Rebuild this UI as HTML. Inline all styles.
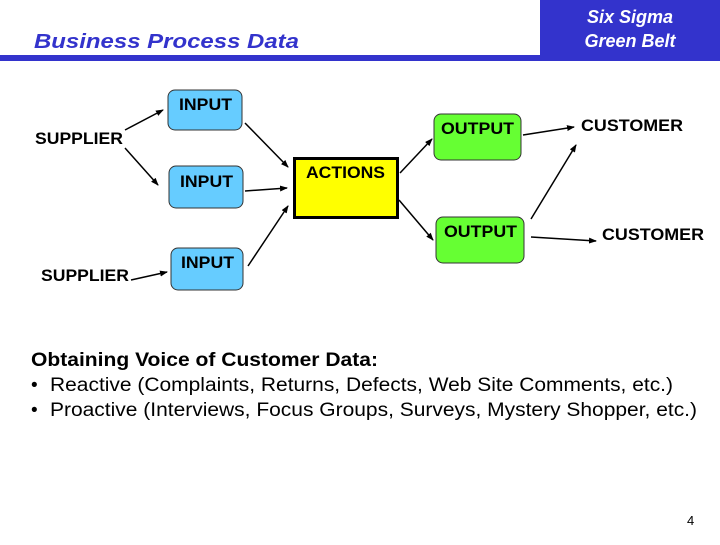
<!DOCTYPE html>
<html><head><style>
body{margin:0;width:720px;height:540px;overflow:hidden;background:#fff}
</style></head><body>
<svg width="720" height="540" xmlns="http://www.w3.org/2000/svg" font-family="Liberation Sans, sans-serif">
<defs><marker id="a" markerWidth="8" markerHeight="6" refX="7" refY="3" orient="auto" markerUnits="userSpaceOnUse"><path d="M0,0 L8,3 L0,6 z" fill="#000"/></marker></defs>
<rect x="540" y="0" width="180" height="56" fill="#3333cc"/>
<rect x="0" y="55" width="720" height="6" fill="#3333cc"/>
<text x="630" y="23" text-anchor="middle" fill="#fff" font-size="18" font-weight="bold" font-style="italic">Six Sigma</text>
<text x="630" y="47" text-anchor="middle" fill="#fff" font-size="18" font-weight="bold" font-style="italic">Green Belt</text>
<text x="34" y="48" fill="#3333cc" font-size="20" font-weight="bold" font-style="italic" textLength="265" lengthAdjust="spacingAndGlyphs">Business Process Data</text>
<g stroke="#333" stroke-width="1">
<rect x="168" y="90" width="74" height="40" rx="7" fill="#66ccff"/>
<rect x="169" y="166" width="74" height="42" rx="7" fill="#66ccff"/>
<rect x="171" y="248" width="72" height="42" rx="7" fill="#66ccff"/>
<rect x="434" y="114" width="87" height="46" rx="7" fill="#66ff33"/>
<rect x="436" y="217" width="88" height="46" rx="7" fill="#66ff33"/>
</g>
<rect x="294.5" y="158.5" width="103" height="59" fill="#ffff00" stroke="#000" stroke-width="3"/>
<g font-size="17" font-weight="bold" fill="#000" lengthAdjust="spacingAndGlyphs">
<text x="179" y="110" textLength="53" lengthAdjust="spacingAndGlyphs">INPUT</text>
<text x="180" y="187" textLength="53" lengthAdjust="spacingAndGlyphs">INPUT</text>
<text x="181" y="268" textLength="53" lengthAdjust="spacingAndGlyphs">INPUT</text>
<text x="306" y="178" textLength="79" lengthAdjust="spacingAndGlyphs">ACTIONS</text>
<text x="441" y="134" textLength="73" lengthAdjust="spacingAndGlyphs">OUTPUT</text>
<text x="444" y="237" textLength="73" lengthAdjust="spacingAndGlyphs">OUTPUT</text>
<text x="35" y="144" textLength="88" lengthAdjust="spacingAndGlyphs">SUPPLIER</text>
<text x="41" y="281" textLength="88" lengthAdjust="spacingAndGlyphs">SUPPLIER</text>
<text x="581" y="131" textLength="102" lengthAdjust="spacingAndGlyphs">CUSTOMER</text>
<text x="602" y="240" textLength="102" lengthAdjust="spacingAndGlyphs">CUSTOMER</text>
</g>
<g stroke="#000" stroke-width="1.5" marker-end="url(#a)">
<line x1="125" y1="130" x2="163" y2="110"/>
<line x1="125" y1="148" x2="158" y2="185"/>
<line x1="131" y1="280" x2="167" y2="272"/>
<line x1="245" y1="123" x2="288" y2="167"/>
<line x1="245" y1="191" x2="287" y2="188"/>
<line x1="248" y1="266" x2="288" y2="206"/>
<line x1="400" y1="173" x2="432" y2="139"/>
<line x1="399" y1="200" x2="433" y2="240"/>
<line x1="523" y1="135" x2="574" y2="127"/>
<line x1="531" y1="219" x2="576" y2="145"/>
<line x1="531" y1="237" x2="596" y2="241"/>
</g>
<g fill="#000" font-size="19">
<text x="31" y="366" font-weight="bold" textLength="347" lengthAdjust="spacingAndGlyphs">Obtaining Voice of Customer Data:</text>
<text x="31" y="391">•</text>
<text x="50" y="391" textLength="623" lengthAdjust="spacingAndGlyphs">Reactive (Complaints, Returns, Defects, Web Site Comments, etc.)</text>
<text x="31" y="416">•</text>
<text x="50" y="416" textLength="647" lengthAdjust="spacingAndGlyphs">Proactive (Interviews, Focus Groups, Surveys, Mystery Shopper, etc.)</text>
<text x="687" y="525" font-size="13">4</text>
</g>
</svg>
</body></html>
